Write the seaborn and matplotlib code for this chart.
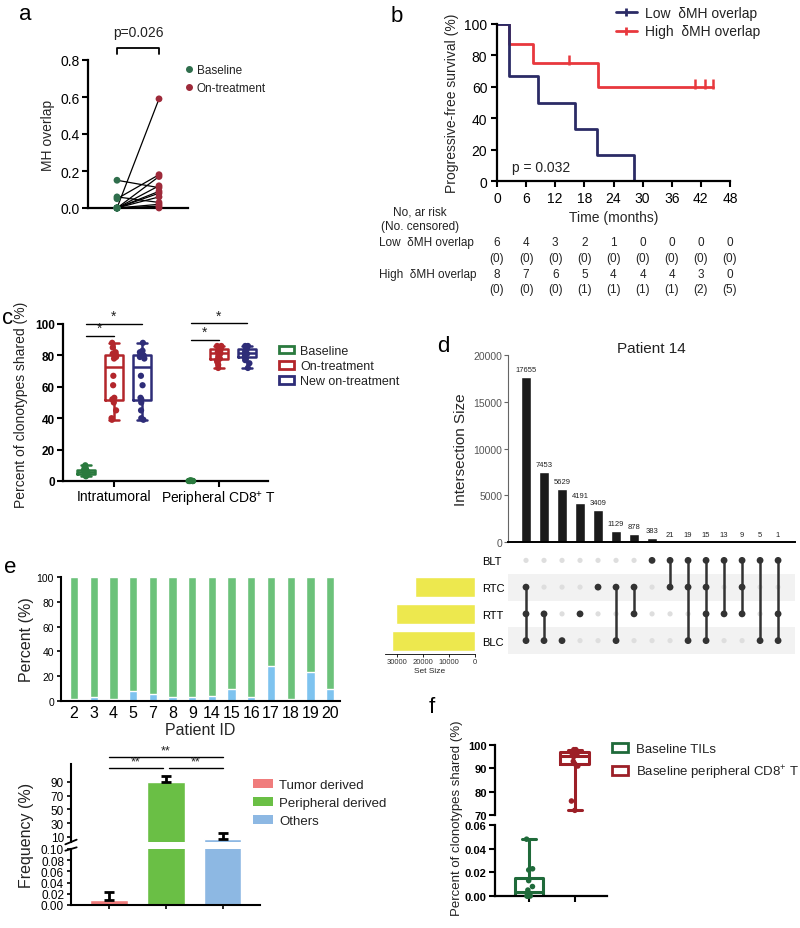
import numpy as np
import pandas as pd
import matplotlib
matplotlib.use('Agg')
import matplotlib.pyplot as plt
import seaborn as sns
from matplotlib.lines import Line2D
from matplotlib.patches import Patch
import matplotlib.transforms as mtransforms

sns.set_theme(style='white')
plt.rcParams['font.family'] = ['Liberation Sans', 'DejaVu Sans']
plt.rcParams['mathtext.fontset'] = 'custom'
plt.rcParams['mathtext.rm'] = 'Liberation Sans'
plt.rcParams['mathtext.it'] = 'Liberation Sans:italic'
plt.rcParams['mathtext.bf'] = 'Liberation Sans:bold'
plt.rcParams['axes.edgecolor'] = 'black'
plt.rcParams['text.color'] = '#222222'
plt.rcParams['xtick.color'] = 'black'
plt.rcParams['ytick.color'] = 'black'

# ---------------- data ----------------
# panel a
a_baseline = [0.15, 0.06, 0.05, 0.0, 0.0, 0.0, 0.0, 0.0, 0.0, 0.0, 0.0, 0.0]
a_ontreat = [0.11, 0.03, 0.18, 0.59, 0.17, 0.12, 0.09, 0.08, 0.06, 0.02, 0.01, 0.0]
# panel b
low_t = [0, 2.5, 8.4, 16.1, 20.6, 28.2]
low_s = [100, 66.7, 50, 33.3, 16.7, 0]
high_t = [0, 2.5, 7.4, 20.8, 44.5]
high_s = [100, 87.5, 75, 60, 60]
high_cens_t = [14.9, 40.8, 42.9, 44.5]
high_cens_s = [75, 60, 60, 60]
risk_times = [0, 6, 12, 18, 24, 30, 36, 42, 48]
low_risk = [6, 4, 3, 2, 1, 0, 0, 0, 0]
low_cens = [0, 0, 0, 0, 0, 0, 0, 0, 0]
high_risk = [8, 7, 6, 5, 4, 4, 4, 3, 0]
high_cens = [0, 0, 0, 1, 1, 1, 1, 2, 5]
# panel c
c_sites = ['Intratumoral', 'Peripheral CD8$^{+}$ T']
c_groups = ['Baseline', 'On-treatment', 'New on-treatment']
c_intra_base = [10, 9, 8, 7, 7, 6, 6, 5, 5, 4, 4, 3]
c_intra_on = [88, 85, 82, 81, 80, 80, 79, 78, 67, 61, 53, 52, 50, 45, 40, 39]
c_intra_new = [88, 83, 82, 81, 80, 80, 79, 78, 67, 61, 53, 52, 50, 45, 40, 39]
c_peri_base = [0.3, 0.2, 0.2, 0.1, 0.1, 0.1, 0, 0, 0, 0, 0, 0]
c_peri_on = [86, 86, 85, 85, 84, 83, 82, 82, 81, 80, 79, 78, 77, 76, 74, 72]
c_peri_new = [86, 86, 85, 85, 84, 84, 83, 82, 81, 80, 80, 79, 78, 77, 75, 72]
# panel d
d_sets = ['BLT', 'RTC', 'RTT', 'BLC']
d_sizes = [17655, 7453, 5629, 4191, 3409, 1129, 878, 383, 21, 19, 15, 13, 9, 5, 1]
d_members = [['RTC', 'RTT', 'BLC'], ['RTT', 'BLC'], ['BLC'], ['RTT'], ['RTC'],
             ['RTC', 'BLC'], ['RTC', 'RTT'], ['BLT'], ['BLT', 'RTC'],
             ['BLT', 'RTC', 'BLC'], ['BLT', 'RTC', 'RTT', 'BLC'], ['BLT', 'RTT'],
             ['BLT', 'RTC', 'RTT'], ['BLT', 'BLC'], ['BLT', 'RTT', 'BLC']]
# panel e
e_pids = ['2', '3', '4', '5', '7', '8', '9', '14', '15', '16', '17', '18', '19', '20']
e_others = [2, 3, 2, 8, 6, 3, 3, 4, 10, 3, 28, 2, 23, 10]
e_cats = ['Tumor derived', 'Peripheral derived', 'Others']
e_means = [0.009, 90.5, 7.5]
e_err = [0.014, 8.0, 8.5]
# panel f
f_groups = ['Baseline TILs', 'Baseline peripheral CD8$^{+}$ T']
f_til = [0.048, 0.023, 0.022, 0.013, 0.008, 0.005, 0.002, 0.001, 0.0, 0.0, 0.0, 0.0]
f_pbl = [98, 98, 97, 97, 96, 96, 95, 93, 92, 91, 76, 72]

# ---------------- layout helpers ----------------
W, H = 800, 929
fig = plt.figure(figsize=(8, 9.29), dpi=100)
fig.patch.set_facecolor('white')


def add_ax(l, t, r, b):
    return fig.add_axes([l / W, 1 - b / H, (r - l) / W, (b - t) / H])


def fx(x):
    return x / W


def fy(y):
    return 1 - y / H


def ftext(x, y, s, **kw):
    fig.text(fx(x), fy(y), s, **kw)


for lab, (x, y) in {'a': (25, 15), 'b': (397, 16), 'c': (8, 318),
                    'd': (443, 347), 'e': (10, 568), 'f': (432, 708)}.items():
    ftext(x, y, lab, fontsize=16, ha='center', va='center', color='black')

# ---------------- panel a ----------------
GA, RA = '#2f6e4c', '#9e2a3a'
ax = add_ax(88, 61, 188, 209)
n = len(a_baseline)
dfa = pd.DataFrame({'pid': list(range(n)) * 2, 'time': [0] * n + [1] * n,
                    'val': a_baseline + a_ontreat,
                    'grp': ['Baseline'] * n + ['On-treatment'] * n})
sns.lineplot(data=dfa, x='time', y='val', units='pid', estimator=None,
             color='black', lw=0.9, ax=ax)
sns.scatterplot(data=dfa, x='time', y='val', hue='grp',
                palette={'Baseline': GA, 'On-treatment': RA}, s=24,
                edgecolor='none', ax=ax, clip_on=False, zorder=3, legend=False)
ax.set_xlim(-0.69, 1.69)
ax.set_ylim(0, 0.8)
ax.set_xticks([])
ax.set_yticks([0, 0.2, 0.4, 0.6, 0.8])
ax.set_yticklabels(['0.0', '0.2', '0.4', '0.6', '0.8'])
ax.set_xlabel('')
ax.set_ylabel('MH overlap', fontsize=10, labelpad=4)
sns.despine(ax=ax)
for s in ['left', 'bottom']:
    ax.spines[s].set_linewidth(1.6)
ax.tick_params(axis='y', direction='out', length=4, width=1.5, labelsize=10, pad=2, left=True)
ax.plot([0, 0, 1, 1], [0.832, 0.865, 0.865, 0.832], clip_on=False, color='black', lw=1.3)
ax.text(0.5, 0.95, 'p=0.026', ha='center', va='center', fontsize=10)
ha = [Line2D([0], [0], marker='o', ls='', color=c, markersize=4) for c in (GA, RA)]
ax.legend(ha, ['Baseline', 'On-treatment'], loc='center left',
          bbox_to_anchor=(fx(185), fy(80)), bbox_transform=fig.transFigure,
          frameon=False, fontsize=8.5, handlelength=0.6, handletextpad=0.4,
          labelspacing=0.5, borderpad=0, borderaxespad=0)

# ---------------- panel b ----------------
NAVY, RED = '#2b2b66', '#e8383d'
axb = add_ax(497, 25, 730, 182)
sns.lineplot(x=high_t, y=high_s, drawstyle='steps-post', color=RED, lw=2,
             ax=axb, estimator=None, sort=False)
sns.lineplot(x=low_t, y=low_s, drawstyle='steps-post', color=NAVY, lw=2,
             ax=axb, estimator=None, sort=False)
axb.scatter(high_cens_t, [v + 2 for v in high_cens_s], marker='|', s=45,
            color=RED, linewidths=1.8, zorder=3)
axb.set_xlim(0, 48)
axb.set_ylim(0, 100)
axb.set_xticks(risk_times)
axb.set_yticks([0, 20, 40, 60, 80, 100])
sns.despine(ax=axb)
for s in ['left', 'bottom']:
    axb.spines[s].set_linewidth(1.6)
axb.tick_params(direction='out', length=4, width=1.5, labelsize=10, pad=3,
                left=True, bottom=True)
axb.set_xlabel('Time (months)', fontsize=10, labelpad=4)
axb.set_ylabel('Progressive-free survival (%)', fontsize=10, labelpad=4)
axb.text(3, 9, 'p = 0.032', fontsize=10, va='center')
hb = [Line2D([0], [0], color=NAVY, lw=2, marker='|', markersize=6, markeredgewidth=2),
      Line2D([0], [0], color=RED, lw=2, marker='|', markersize=6, markeredgewidth=2)]
axb.legend(hb, ['Low  \u03b4MH overlap', 'High  \u03b4MH overlap'], loc='center left',
           bbox_to_anchor=(fx(616), fy(23)), bbox_transform=fig.transFigure,
           frameon=False, fontsize=10, handlelength=1.5, handletextpad=0.6,
           labelspacing=0.35, borderpad=0, borderaxespad=0)
# risk table
tr = mtransforms.blended_transform_factory(axb.transData, fig.transFigure)
ftext(420, 213, 'No, ar risk', fontsize=8.5, ha='center', va='center')
ftext(420, 227, '(No. censored)', fontsize=8.5, ha='center', va='center')
ftext(379, 243, 'Low  \u03b4MH overlap', fontsize=8.5, ha='left', va='center')
ftext(379, 275, 'High  \u03b4MH overlap', fontsize=8.5, ha='left', va='center')
for t, r1, c1, r2, c2 in zip(risk_times, low_risk, low_cens, high_risk, high_cens):
    axb.text(t, fy(243), str(r1), transform=tr, fontsize=8.5, ha='center', va='center')
    axb.text(t, fy(259), f'({c1})', transform=tr, fontsize=8.5, ha='center', va='center')
    axb.text(t, fy(275), str(r2), transform=tr, fontsize=8.5, ha='center', va='center')
    axb.text(t, fy(290), f'({c2})', transform=tr, fontsize=8.5, ha='center', va='center')

# ---------------- panel c ----------------
CG, CR, CN = '#2a7a3e', '#b3262b', '#2e2d78'
cpal = dict(zip(c_groups, [CG, CR, CN]))
rows = []
for site, vals3 in zip(c_sites, [(c_intra_base, c_intra_on, c_intra_new),
                                 (c_peri_base, c_peri_on, c_peri_new)]):
    for g, vals in zip(c_groups, vals3):
        for v in vals:
            rows.append((site, g, v))
dfc = pd.DataFrame(rows, columns=['site', 'group', 'value'])
axc = add_ax(63, 325, 268, 482)
sns.boxplot(data=dfc, x='site', y='value', hue='group', order=c_sites,
            hue_order=c_groups, palette=cpal, fill=False, whis=(0, 100),
            linewidth=1.8, gap=0.35, width=0.8, showfliers=False, ax=axc,
            legend=False)
sns.stripplot(data=dfc, x='site', y='value', hue='group', order=c_sites,
              hue_order=c_groups, palette=cpal, dodge=True, jitter=0.07,
              size=4.5, ax=axc, legend=False, clip_on=False, zorder=3)
axc.set_xlim(-0.486, 1.467)
axc.set_ylim(0, 100)
axc.set_yticks([0, 20, 40, 60, 80, 100])
sns.despine(ax=axc)
for s in ['left', 'bottom']:
    axc.spines[s].set_linewidth(1.6)
axc.tick_params(direction='out', length=4, width=1.5, labelsize=8.5, pad=2,
                left=True, bottom=True)
for lb in axc.get_yticklabels():
    lb.set_fontweight('bold')
axc.set_xticks([0, 1])
axc.set_xticklabels(c_sites, fontsize=10)
axc.set_xlabel('')
axc.set_ylabel('')
ftext(21, 405, 'Percent of clonotypes shared (%)', rotation=90, fontsize=10,
      ha='center', va='center')
off = 0.267
for x0, y_s, y_l in [(0, 92.5, 100), (1, 90, 100.5)]:
    axc.plot([x0 - off, x0], [y_s, y_s], color='black', lw=1, clip_on=False)
    axc.plot([x0 - off, x0 + off], [y_l, y_l], color='black', lw=1, clip_on=False)
    axc.text(x0 - off / 2, y_s + 0.5, '*', ha='center', va='bottom', fontsize=10)
    axc.text(x0, y_l + 0.5, '*', ha='center', va='bottom', fontsize=10)
hc = [Patch(facecolor='white', edgecolor=c, linewidth=2) for c in (CG, CR, CN)]
axc.legend(hc, c_groups, loc='center left', bbox_to_anchor=(fx(279), fy(367)),
           bbox_transform=fig.transFigure, frameon=False, fontsize=9,
           handlelength=1.2, handleheight=0.6, handletextpad=0.5,
           labelspacing=0.25, borderpad=0, borderaxespad=0)

# ---------------- panel d ----------------
ncol = len(d_sizes)
axd = add_ax(508, 356, 795, 543)
sns.barplot(x=list(range(ncol)), y=d_sizes, color='#1b1b1b', width=0.6,
            ax=axd, saturation=1)
axd.bar_label(axd.containers[0], fontsize=5.5, padding=3, color='#222222')
axd.set_xlim(-1, 14.94)
axd.set_ylim(0, 20000)
axd.set_yticks([0, 5000, 10000, 15000, 20000])
axd.set_xticks([])
sns.despine(ax=axd)
axd.spines['left'].set_linewidth(0.8)
axd.spines['left'].set_color('#666666')
axd.spines['bottom'].set_linewidth(1.4)
axd.tick_params(axis='y', direction='out', length=3, width=0.8, labelsize=7.5,
                labelcolor='#555555', color='#666666', pad=1, left=True)
axd.set_ylabel('Intersection Size', fontsize=11, labelpad=4)
axd.set_title('Patient 14', fontsize=11, pad=2)

axm = add_ax(508, 548, 795, 655)
axm.set_xlim(-1, 14.94)
axm.set_ylim(3.5, -0.5)
for i in (1, 3):
    axm.axhspan(i - 0.5, i + 0.5, color='#f2f2f2', zorder=0, lw=0)
allx, ally, actx, acty = [], [], [], []
for ci, mem in enumerate(d_members):
    rows_i = [d_sets.index(m) for m in mem]
    for ri in range(len(d_sets)):
        allx.append(ci)
        ally.append(ri)
    for ri in rows_i:
        actx.append(ci)
        acty.append(ri)
    if len(rows_i) > 1:
        axm.vlines(ci, min(rows_i), max(rows_i), color='#333333', lw=1.8, zorder=2)
sns.scatterplot(x=allx, y=ally, color='#dedede', s=14, edgecolor='none', ax=axm, zorder=1)
sns.scatterplot(x=actx, y=acty, color='#333333', s=24, edgecolor='none', ax=axm, zorder=3)
axm.set_xlim(-1, 14.94)
axm.set_ylim(3.5, -0.5)
axm.axis('off')

set_sizes = [sum(v for v, mem in zip(d_sizes, d_members) if s in mem) for s in d_sets]
axs = add_ax(385, 548, 475, 655)
sns.barplot(x=set_sizes, y=d_sets, order=d_sets, orient='h', color='#ede84e',
            saturation=1, width=0.75, ax=axs)
axs.set_xlim(34600, 0)
axs.set_ylim(3.5, -0.5)
axs.set_xticks([30000, 20000, 10000, 0])
axs.tick_params(axis='x', direction='out', length=2, width=0.6, labelsize=5.5,
                pad=1, bottom=True, labelcolor='#333333')
axs.yaxis.tick_right()
axs.tick_params(axis='y', length=0, labelsize=8, pad=5)
for s in ['top', 'left', 'right']:
    axs.spines[s].set_visible(False)
axs.spines['bottom'].set_linewidth(0.6)
axs.set_xlabel('Set Size', fontsize=6, labelpad=1)
axs.set_ylabel('')

# ---------------- panel e (top) ----------------
EG, EB = '#6cc27a', '#7ec3ef'
axe = add_ax(61, 578, 340, 702)
dfe = pd.DataFrame({'pid': e_pids, 'others': e_others, 'total': [100] * len(e_pids)})
sns.barplot(data=dfe, x='pid', y='total', order=e_pids, color=EG, saturation=1,
            width=0.42, ax=axe)
sns.barplot(data=dfe, x='pid', y='others', order=e_pids, color=EB, saturation=1,
            width=0.42, ax=axe)
axe.set_xlim(-0.66, 13.5)
axe.set_ylim(0, 100)
axe.set_yticks([0, 20, 40, 60, 80, 100])
sns.despine(ax=axe)
for s in ['left', 'bottom']:
    axe.spines[s].set_linewidth(1.5)
axe.tick_params(axis='y', direction='out', length=3, width=1.2, labelsize=7.5,
                pad=2, left=True)
axe.tick_params(axis='x', length=0, labelsize=11.5, pad=3)
axe.set_xlabel('Patient ID', fontsize=11.5, labelpad=1)
axe.set_ylabel('')
ftext(27, 640, 'Percent (%)', rotation=90, fontsize=11.5, ha='center', va='center')

# ---------------- panel e (bottom) ----------------
ER, EGg, EBb = '#f07c7c', '#6abf45', '#8db8e3'
epal = dict(zip(e_cats, [ER, EGg, EBb]))
axh = add_ax(71, 765, 260, 843)
axl = add_ax(71, 850, 260, 906)
for axx in (axh, axl):
    sns.barplot(x=e_cats, y=e_means, hue=e_cats, palette=epal, saturation=1,
                width=0.65, ax=axx, legend=False)
    axx.errorbar(x=[0, 1, 2], y=e_means, yerr=[[0, 0, 0], e_err], fmt='none',
                 ecolor='black', elinewidth=2, capsize=3.5, capthick=2, zorder=3)
    axx.set_xlim(-0.667, 2.65)
    axx.set_ylabel('')
    axx.set_xlabel('')
    sns.despine(ax=axx)
    axx.spines['left'].set_linewidth(1.5)
    axx.spines['bottom'].set_linewidth(1.5)
axh.set_ylim(2.7, 116)
axh.set_yticks([10, 30, 50, 70, 90])
axh.spines['bottom'].set_visible(False)
axh.set_xticks([])
axh.tick_params(axis='y', direction='out', length=3, width=1.2, labelsize=8.5,
                pad=2, left=True)
axl.set_ylim(0, 0.10)
axl.set_yticks([0, 0.02, 0.04, 0.06, 0.08, 0.10])
axl.set_yticklabels(['0.00', '0.02', '0.04', '0.06', '0.08', '0.10'])
axl.set_xticks([0, 1, 2])
axl.set_xticklabels([])
axl.tick_params(axis='y', direction='out', length=3, width=1.2, labelsize=8.5,
                pad=2, left=True)
axl.tick_params(axis='x', direction='out', length=3, width=1.2, bottom=True)
for axx, yy in ((axh, 0.0), (axl, 1.0)):
    axx.plot([-0.03, 0.03], [yy - 0.03, yy + 0.03], transform=axx.transAxes,
             color='black', lw=1.3, clip_on=False)
ftext(27, 835, 'Frequency (%)', rotation=90, fontsize=11.5, ha='center', va='center')
for x0, x1, yv in [(0, 2, 126), (0, 0.95, 110), (1.05, 2, 110)]:
    axh.plot([x0, x1], [yv, yv], color='black', lw=1, clip_on=False)
    axh.text((x0 + x1) / 2, yv + 0.5, '**', ha='center', va='bottom', fontsize=9)
he = [Patch(facecolor=c, edgecolor='none') for c in (ER, EGg, EBb)]
axh.legend(he, e_cats, loc='center left', bbox_to_anchor=(fx(253), fy(804)),
           bbox_transform=fig.transFigure, frameon=False, fontsize=9.5,
           handlelength=1.5, handleheight=0.7, handletextpad=0.5,
           labelspacing=0.45, borderpad=0, borderaxespad=0)

# ---------------- panel f ----------------
FG, FR = '#1f6a3a', '#9c1f27'
fpal = dict(zip(f_groups, [FG, FR]))
dff = pd.DataFrame({'grp': [f_groups[0]] * len(f_til) + [f_groups[1]] * len(f_pbl),
                    'val': f_til + f_pbl})
axfh = add_ax(495, 746, 607, 816)
axfl = add_ax(495, 826, 607, 897)
for axx, g in ((axfl, f_groups[0]), (axfh, f_groups[1])):
    sub = dff[dff['grp'] == g]
    sns.boxplot(data=sub, x='grp', y='val', order=f_groups, hue='grp',
                hue_order=f_groups, palette=fpal, fill=False, whis=(0, 100),
                width=0.63, linewidth=2.2, showfliers=False, ax=axx, legend=False)
    sns.stripplot(data=sub, x='grp', y='val', order=f_groups, hue='grp',
                  hue_order=f_groups, palette=fpal, jitter=0.08, size=4,
                  ax=axx, legend=False, clip_on=False, zorder=3)
    axx.set_xlim(-0.74, 1.7)
    axx.set_xlabel('')
    axx.set_ylabel('')
    sns.despine(ax=axx)
    axx.spines['left'].set_linewidth(1.6)
    axx.spines['bottom'].set_linewidth(1.6)
    axx.tick_params(axis='y', direction='out', length=4, width=1.5, labelsize=8,
                    pad=2, left=True)
axfh.set_ylim(70, 100)
axfh.set_yticks([70, 80, 90, 100])
axfh.spines['bottom'].set_visible(False)
axfh.set_xticks([])
axfl.set_ylim(0, 0.06)
axfl.set_yticks([0, 0.02, 0.04, 0.06])
axfl.set_yticklabels(['0.00', '0.02', '0.04', '0.06'])
axfl.set_xticks([0, 1])
axfl.set_xticklabels([])
axfl.tick_params(axis='x', direction='out', length=4, width=1.5, bottom=True)
for axx in (axfh, axfl):
    for lb in axx.get_yticklabels():
        lb.set_fontweight('bold')
ftext(457, 818, 'Percent of clonotypes shared (%)', rotation=90, fontsize=9.5,
      ha='center', va='center')
hf = [Patch(facecolor='white', edgecolor=c, linewidth=2) for c in (FG, FR)]
axfh.legend(hf, f_groups, loc='center left', bbox_to_anchor=(fx(612), fy(763)),
            bbox_transform=fig.transFigure, frameon=False, fontsize=9.5,
            handlelength=1.2, handleheight=0.6, handletextpad=0.6,
            labelspacing=0.55, borderpad=0, borderaxespad=0)

fig.savefig('out.png', dpi=100, facecolor='white')
